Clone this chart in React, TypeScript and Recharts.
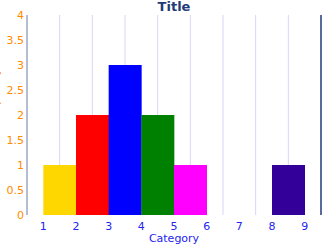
import React from 'react';
import { BarChart, Bar, XAxis, YAxis, CartesianGrid, Cell, ReferenceLine } from 'recharts';

const categoryTicks = [1, 2, 3, 4, 5, 6, 7, 8, 9];
const binCenters = [1.5, 2.5, 3.5, 4.5, 5.5, 6.5, 7.5, 8.5];
const counts = [1, 2, 3, 2, 1, 0, 0, 1];
const barColors = ['#FFD700', '#FF0000', '#0000FF', '#008000', '#FF00FF', '#FFFFFF', '#FFFFFF', '#330099'];
const yTicks = [0, 0.5, 1, 1.5, 2, 2.5, 3, 3.5, 4];
const gridXs = [1.5, 2.5, 3.5, 4.5, 5.5, 6.5, 7.5, 8.5];
const xDomain = [0.5, 9.5];
const yDomain = [0, 4];

const data = binCenters.map((x, i) => ({ x, count: counts[i] }));

const ORANGE = '#FF8C00';
const BLUE = '#2424EE';
const NAVY = '#1F3B78';

const renderYLabel = (props: any) => {
  const vb = props.viewBox || { x: 0, y: 15, width: 27, height: 200 };
  const cx = vb.x - 1;
  const cy = vb.y + vb.height / 2 - 18;
  return (
    <text
      x={cx}
      y={cy}
      transform={`rotate(-90, ${cx}, ${cy})`}
      textAnchor="middle"
      fill={ORANGE}
      fontSize={11}
    >
      Frequency
    </text>
  );
};

export default function App() {
  return (
    <div
      style={{
        position: 'absolute',
        left: 0,
        top: 0,
        width: 328,
        height: 245,
        fontFamily: '"DejaVu Sans", Verdana, sans-serif',
        background: '#fff',
      }}
    >
      <div
        style={{
          position: 'absolute',
          left: 27,
          top: 0,
          width: 294,
          textAlign: 'center',
          fontSize: 13,
          lineHeight: '13px',
          fontWeight: 'bold',
          color: NAVY,
        }}
      >
        Title
      </div>
      <BarChart
        width={328}
        height={245}
        data={data}
        margin={{ top: 15, right: 7, bottom: 0, left: 0 }}
        barCategoryGap={0}
        barGap={0}
      >
        <CartesianGrid horizontal={false} verticalValues={gridXs} stroke="#D6D6F6" strokeWidth={1} />
        <XAxis
          dataKey="x"
          type="number"
          domain={xDomain}
          ticks={categoryTicks}
          interval={0}
          height={30}
          axisLine={false}
          tickLine={false}
          tickSize={0}
          tickMargin={7}
          tick={{ fill: BLUE, fontSize: 11 }}
          label={{ value: 'Category', position: 'insideBottom', offset: 3, fill: BLUE, fontSize: 11 }}
        />
        <YAxis
          type="number"
          domain={yDomain}
          ticks={yTicks}
          interval={0}
          width={27}
          axisLine={{ stroke: '#6A7AA6' }}
          tickLine={false}
          tickSize={0}
          tickMargin={3}
          tick={{ fill: ORANGE, fontSize: 11 }}
          label={{ content: renderYLabel }}
        />
        <Bar dataKey="count" isAnimationActive={false}>
          {data.map((d, i) => (
            <Cell key={i} fill={barColors[i]} />
          ))}
        </Bar>
        <ReferenceLine x={xDomain[1]} stroke={NAVY} strokeWidth={1.5} />
      </BarChart>
    </div>
  );
}
